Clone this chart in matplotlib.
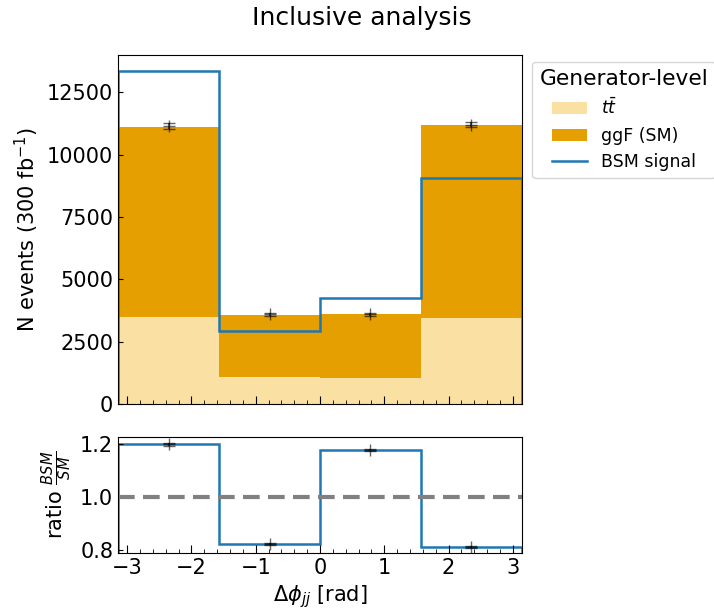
import numpy as np
import matplotlib
matplotlib.use("Agg")
import matplotlib.pyplot as plt
from matplotlib.ticker import AutoMinorLocator, MultipleLocator

# ---- data ----
bin_edges = [-np.pi, -np.pi / 2, 0.0, np.pi / 2, np.pi]
bin_centers = [-2.356, -0.785, 0.785, 2.356]
ttbar = [3480, 1085, 1050, 3430]
ggf = [7650, 2492, 2547, 7744]
bsm = [13344, 2934, 4260, 9084]
sm_points = [11150, 3590, 3600, 11200]
sm_err = [106, 60, 60, 106]
ratio_line = [1.199, 0.822, 1.178, 0.810]
ratio_points = [1.198, 0.823, 1.177, 0.810]
ratio_err = [0.005, 0.004, 0.005, 0.004]
y_ticks_main = [0, 2500, 5000, 7500, 10000, 12500]
y_ticks_ratio = [0.8, 1.0, 1.2]

c_tt = "#fae0a2"
c_ggf = "#e69f00"
c_bsm = "#1f77b4"

fig = plt.figure(figsize=(7.14, 6.15), dpi=100)
ax = fig.add_axes([0.1653, 0.3431, 0.5658, 0.5675])
axr = fig.add_axes([0.1653, 0.1008, 0.5658, 0.1886], sharex=ax)

total_sm = [a + b for a, b in zip(ttbar, ggf)]
ax.stairs(ttbar, bin_edges, fill=True, color=c_tt, label=r"$t\bar{t}$")
ax.stairs(total_sm, bin_edges, baseline=ttbar, fill=True, color=c_ggf, label="ggF (SM)")
ax.stairs(bsm, bin_edges, color=c_bsm, lw=1.8, label="BSM signal")
ax.errorbar(bin_centers, sm_points, yerr=sm_err, fmt="+", color="k", alpha=0.6,
            capsize=4, ms=8, lw=1.5)

ax.set_xlim(-np.pi, np.pi)
ax.set_ylim(0, 14000)
ax.set_yticks(y_ticks_main)
ax.set_ylabel(r"N events (300 fb$^{-1}$)", fontsize=15)
ax.xaxis.set_major_locator(MultipleLocator(1))
ax.xaxis.set_minor_locator(AutoMinorLocator(5))
ax.tick_params(axis="both", which="both", direction="in", labelsize=15)
ax.tick_params(axis="x", which="major", length=6)
ax.tick_params(axis="x", which="minor", length=3)
plt.setp(ax.get_xticklabels(), visible=False)

leg = ax.legend(title="Generator-level", loc="upper left", bbox_to_anchor=(1.013, 0.995),
                fontsize=12.5, title_fontsize=15.7, frameon=True, borderaxespad=0.3)
leg.get_frame().set_edgecolor("#cccccc")

axr.stairs(ratio_line, bin_edges, color=c_bsm, lw=1.8)
axr.axhline(1.0, color="gray", ls="--", lw=3, dashes=(4, 2))
axr.errorbar(bin_centers, ratio_points, yerr=ratio_err, fmt="+", color="k", alpha=0.6,
             capsize=4, ms=8, lw=1.5)
axr.set_ylim(0.789, 1.226)
axr.set_yticks(y_ticks_ratio)
axr.set_xlim(-np.pi, np.pi)
axr.xaxis.set_minor_locator(AutoMinorLocator(5))
axr.tick_params(axis="both", which="both", direction="in", labelsize=15)
axr.tick_params(axis="x", which="major", length=6)
axr.tick_params(axis="x", which="minor", length=3)
axr.set_ylabel(r"ratio $\frac{BSM}{SM}$", fontsize=15)
axr.set_xlabel(r"$\Delta\phi_{jj}$ [rad]", fontsize=15)

fig.text(0.507, 0.971, "Inclusive analysis", ha="center", va="center", fontsize=18)

fig.savefig("out.png", dpi=100)
